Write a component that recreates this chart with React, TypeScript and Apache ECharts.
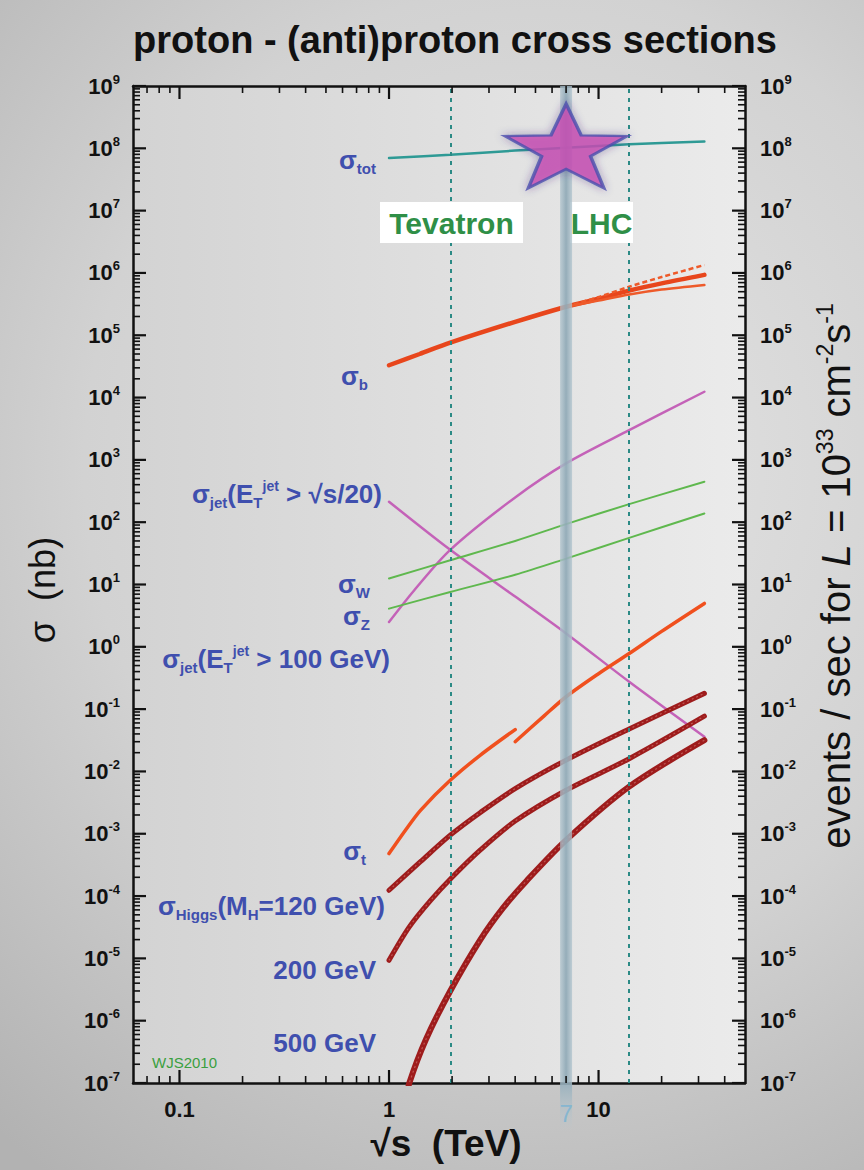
import React, { useEffect, useRef } from "react";
import * as echarts from "echarts";

const FONT = "'Liberation Sans', Arial, Helvetica, sans-serif";

// ---- axis ranges ----
const X_MIN = 0.06;
const X_MAX = 50;
const Y_MIN = 1e-7;
const Y_MAX = 1e9;

// ---- tick values / labels ----
const xMajorTicks = [0.1, 1, 10];
const xTickLabels = ["0.1", "1", "10"];
const xMinorTicks = [0.07, 0.08, 0.09, 0.2, 0.3, 0.4, 0.5, 0.6, 0.7, 0.8, 0.9, 2, 3, 4, 5, 6, 7, 8, 9, 20, 30, 40];
const yMajorTicks = [1e-7, 1e-6, 1e-5, 1e-4, 1e-3, 1e-2, 1e-1, 1e0, 1e1, 1e2, 1e3, 1e4, 1e5, 1e6, 1e7, 1e8, 1e9];
const yTickLabels = [
  "10{s|-7}", "10{s|-6}", "10{s|-5}", "10{s|-4}", "10{s|-3}", "10{s|-2}", "10{s|-1}", "10{s|0}",
  "10{s|1}", "10{s|2}", "10{s|3}", "10{s|4}", "10{s|5}", "10{s|6}", "10{s|7}", "10{s|8}", "10{s|9}",
];
const yMinorMultipliers = [2, 3, 4, 5, 6, 7, 8, 9];

// ---- collider energies (TeV) ----
const tevatronEnergy = 1.96;
const lhcDesignEnergy = 14;
const lhcRunEnergy = 7;
const lhcStar = [[7, 1.09e8]];

// ---- cross sections [sqrt(s) TeV, sigma nb] ----
const sigmaTot = [[1, 7.0e7], [1.96, 7.9e7], [4, 9.2e7], [7, 1.02e8], [14, 1.16e8], [32, 1.29e8]];
const sigmaB = [[1, 3.3e4], [1.4, 5.0e4], [1.96, 7.6e4], [4, 1.64e5], [7, 2.87e5], [10, 3.85e5], [14, 5.2e5], [20, 6.8e5], [32, 9.3e5]];
const sigmaBUpper = [[7, 2.87e5], [10, 4.1e5], [14, 6.0e5], [20, 8.6e5], [32, 1.34e6]];
const sigmaBLower = [[7, 2.87e5], [10, 3.6e5], [14, 4.5e5], [20, 5.4e5], [32, 6.4e5]];
const sigmaJetScaled = [[1, 213], [1.96, 36], [4, 6.4], [7, 1.64], [14, 0.275], [32, 0.036]];
const sigmaJet100 = [[1, 2.5], [1.32, 8.1], [1.96, 36], [4, 250], [7, 880], [14, 3000], [32, 12400]];
const sigmaW = [[1, 12.5], [1.96, 24.5], [4, 50], [7, 93], [14, 195], [32, 446]];
const sigmaZ = [[1, 4.1], [1.96, 7.6], [4, 14.3], [7, 26], [14, 56], [32, 138]];
const sigmaTopPpbar = [[1, 4.8e-4], [1.2, 1.15e-3], [1.417, 2.4e-3], [1.96, 7.2e-3], [2.73, 1.83e-2], [4, 4.7e-2]];
const sigmaTopPp = [[4, 3.0e-2], [5.5, 7.8e-2], [7, 0.158], [10, 0.37], [14, 0.78], [20, 1.77], [32, 4.97]];
const higgs120 = [[1, 1.24e-4], [1.417, 3.6e-4], [1.96, 9.5e-4], [2.73, 2.2e-3], [4, 5.3e-3], [7, 1.52e-2], [14, 4.8e-2], [32, 0.179]];
const higgs200 = [[1, 9.3e-6], [1.25, 3.2e-5], [1.58, 8.5e-5], [2, 2.0e-4], [2.73, 5.5e-4], [4, 1.6e-3], [7, 5.0e-3], [14, 1.6e-2], [32, 7.7e-2]];
const higgs500 = [[1.22, 6e-8], [1.25, 1e-7], [1.5, 5e-7], [1.96, 3.0e-6], [2.73, 2.0e-5], [3.51, 6.5e-5], [4.53, 1.75e-4], [7, 7.9e-4], [14, 5.7e-3], [32, 3.17e-2]];

// ---- star symbol (LHC) ----
const starPath =
  "path://" +
  Array.from({ length: 10 }, (_, k) => {
    const a = -Math.PI / 2 + (k * Math.PI) / 5;
    const r = k % 2 === 0 ? 50 : 20;
    return `${k === 0 ? "M" : "L"}${(50 + r * Math.cos(a)).toFixed(2)} ${(50 + r * Math.sin(a)).toFixed(2)}`;
  }).join(" ") +
  " Z";

type Tick = { v: number; major: boolean; label?: string };

function buildOption() {
  const yTicks: Tick[] = [];
  yMajorTicks.forEach((v, i) => {
    yTicks.push({ v, major: true, label: yTickLabels[i] });
    if (i < yMajorTicks.length - 1) yMinorMultipliers.forEach((m) => yTicks.push({ v: v * m, major: false }));
  });
  const xTicks: Tick[] = [
    ...xMajorTicks.map((v, i) => ({ v, major: true, label: xTickLabels[i] })),
    ...xMinorTicks.map((v) => ({ v, major: false })),
  ];

  const tickRich = {
    s: { fontSize: 13, fontWeight: "bold", fontFamily: FONT, fill: "#111", padding: [0, 0, 14, 0] },
  };

  const axisCommon = {
    type: "log",
    logBase: 10,
    axisLine: { show: true, onZero: false, lineStyle: { color: "#111", width: 2.5 } },
    axisTick: { show: false },
    axisLabel: { show: false },
    splitLine: { show: false },
    minorTick: { show: false },
  };

  const blue = "#3f4fae";
  const labelRich = {
    sub: { fontSize: 15, fontWeight: "bold", fontFamily: FONT, fill: blue, padding: [16, 0, 0, 0] },
    sup: { fontSize: 14, fontWeight: "bold", fontFamily: FONT, fill: blue, padding: [0, 0, 16, 0] },
  };
  const curveLabel = (text: string, x: number, y: number) => ({
    type: "text",
    x,
    y,
    z: 50,
    silent: true,
    style: {
      text,
      fill: blue,
      fontSize: 26,
      fontWeight: "bold",
      fontFamily: FONT,
      align: "right",
      verticalAlign: "middle",
      rich: labelRich,
    },
  });

  const line = (name: string, data: number[][], color: string, width: number, extra: any = {}) => ({
    type: "line",
    name,
    data,
    showSymbol: false,
    symbol: "none",
    smooth: 0.3,
    silent: true,
    clip: true,
    z: 3,
    lineStyle: { color, width, cap: "round" },
    ...extra,
  });
  const texture = (name: string, data: number[][]) =>
    line(name, data, "rgba(255,190,180,0.35)", 1.2, {
      z: 4,
      lineStyle: { color: "rgba(255,195,185,0.35)", width: 1.2, type: [2, 3] },
    });

  const series: any[] = [
    line("σtot", sigmaTot, "#2e9a95", 2.5, {
      markLine: {
        symbol: "none",
        silent: true,
        label: { show: false },
        lineStyle: { color: "#2b8a85", width: 2, type: [4, 5] },
        data: [{ xAxis: tevatronEnergy }, { xAxis: lhcDesignEnergy }],
      },
    }),
    line("σb", sigmaB, "#e8461c", 4.5),
    line("σb upper", sigmaBUpper, "#ee5a2a", 2.5, { lineStyle: { color: "#ee5a2a", width: 2.5, type: [5, 3] } }),
    line("σb lower", sigmaBLower, "#ee5a2a", 2.5),
    line("σjet √s/20", sigmaJetScaled, "#c462b8", 2.5),
    line("σjet 100", sigmaJet100, "#c462b8", 2.5),
    line("σW", sigmaW, "#5fb84e", 2),
    line("σZ", sigmaZ, "#5fb84e", 2),
    line("σt ppbar", sigmaTopPpbar, "#f0501e", 3.5),
    line("σt pp", sigmaTopPp, "#f0501e", 3.5),
    line("Higgs 120", higgs120, "#9e1c1c", 5),
    texture("Higgs 120 t", higgs120),
    line("Higgs 200", higgs200, "#9e1c1c", 5),
    texture("Higgs 200 t", higgs200),
    line("Higgs 500", higgs500, "#9e1c1c", 6),
    texture("Higgs 500 t", higgs500),
    {
      type: "custom",
      name: "LHC 7 TeV",
      coordinateSystem: "cartesian2d",
      clip: false,
      silent: true,
      z: 10,
      data: [[lhcRunEnergy, Y_MAX]],
      renderItem: (params: any, api: any) => {
        const top = api.coord([api.value(0), Y_MAX]);
        const bot = api.coord([api.value(0), Y_MIN]);
        const w = 12;
        return {
          type: "group",
          children: [
            {
              type: "rect",
              shape: { x: top[0] - w / 2, y: top[1], width: w, height: bot[1] - top[1] },
              style: {
                fill: new echarts.graphic.LinearGradient(0, 0, 1, 0, [
                  { offset: 0, color: "rgba(175,195,205,0.75)" },
                  { offset: 0.5, color: "rgba(145,170,183,0.95)" },
                  { offset: 1, color: "rgba(175,195,205,0.75)" },
                ]),
              },
            },
            {
              type: "rect",
              shape: { x: top[0] - w / 2, y: bot[1], width: w, height: 48 },
              style: {
                fill: new echarts.graphic.LinearGradient(0, 0, 0, 1, [
                  { offset: 0, color: "rgba(150,175,188,0.9)" },
                  { offset: 1, color: "rgba(180,200,210,0)" },
                ]),
              },
            },
            {
              type: "text",
              x: top[0],
              y: bot[1] + 30,
              style: {
                text: "7",
                fill: "#86b6d0",
                fontSize: 24,
                fontFamily: FONT,
                align: "center",
                verticalAlign: "middle",
              },
            },
          ],
        };
      },
    },
    {
      type: "scatter",
      name: "LHC star",
      data: lhcStar,
      symbol: starPath,
      symbolSize: [122, 84],
      silent: true,
      z: 12,
      itemStyle: {
        color: "#c94fb4",
        borderColor: "#4b4fae",
        borderWidth: 3,
        shadowBlur: 8,
        shadowColor: "rgba(60,40,120,0.45)",
      },
    },
    {
      type: "custom",
      name: "y ticks",
      coordinateSystem: "cartesian2d",
      clip: false,
      silent: true,
      z: 20,
      data: yTicks.map((t) => [X_MIN, t.v]),
      renderItem: (params: any, api: any) => {
        const t = yTicks[params.dataIndex];
        const l = api.coord([X_MIN, t.v]);
        const r = api.coord([X_MAX, t.v]);
        const len = t.major ? 13 : 7;
        const lw = t.major ? 2.2 : 1.6;
        const children: any[] = [
          { type: "line", shape: { x1: l[0], y1: l[1], x2: l[0] + len, y2: l[1] }, style: { stroke: "#111", lineWidth: lw } },
          { type: "line", shape: { x1: r[0] - len, y1: r[1], x2: r[0], y2: r[1] }, style: { stroke: "#111", lineWidth: lw } },
        ];
        if (t.label) {
          const ts = { text: t.label, fill: "#111", fontSize: 22, fontWeight: "bold", fontFamily: FONT, verticalAlign: "middle", rich: tickRich };
          children.push({ type: "text", x: l[0] - 13, y: l[1], style: { ...ts, align: "right" } });
          children.push({ type: "text", x: r[0] + 15, y: r[1], style: { ...ts, align: "left" } });
        }
        return { type: "group", children };
      },
    },
    {
      type: "custom",
      name: "x ticks",
      coordinateSystem: "cartesian2d",
      clip: false,
      silent: true,
      z: 20,
      data: xTicks.map((t) => [t.v, Y_MIN]),
      renderItem: (params: any, api: any) => {
        const t = xTicks[params.dataIndex];
        const b = api.coord([t.v, Y_MIN]);
        const tp = api.coord([t.v, Y_MAX]);
        const len = t.major ? 13 : 7;
        const lw = t.major ? 2.2 : 1.6;
        const children: any[] = [
          { type: "line", shape: { x1: b[0], y1: b[1], x2: b[0], y2: b[1] - len }, style: { stroke: "#111", lineWidth: lw } },
          { type: "line", shape: { x1: tp[0], y1: tp[1], x2: tp[0], y2: tp[1] + len }, style: { stroke: "#111", lineWidth: lw } },
        ];
        if (t.label) {
          children.push({
            type: "text",
            x: b[0],
            y: b[1] + 26,
            style: { text: t.label, fill: "#111", fontSize: 22, fontWeight: "bold", fontFamily: FONT, align: "center", verticalAlign: "middle" },
          });
        }
        return { type: "group", children };
      },
    },
  ];

  const boxLabel = (text: string, x: number, y: number, w: number, h: number) => ({
    type: "group",
    z: 6,
    silent: true,
    children: [
      { type: "rect", shape: { x, y, width: w, height: h }, style: { fill: "#ffffff" }, z: 6 },
      {
        type: "text",
        x: x + w / 2,
        y: y + h / 2 + 1,
        z: 7,
        style: { text, fill: "#2f8f47", fontSize: 30, fontWeight: "bold", fontFamily: FONT, align: "center", verticalAlign: "middle" },
      },
    ],
  });

  const graphic: any[] = [
    {
      type: "text",
      x: 455,
      y: 40,
      z: 50,
      silent: true,
      style: { text: "proton - (anti)proton cross sections", fill: "#111", fontSize: 38, fontWeight: "bold", fontFamily: FONT, align: "center", verticalAlign: "middle" },
    },
    {
      type: "text",
      x: 446,
      y: 1143,
      z: 50,
      silent: true,
      style: { text: "√s  (TeV)", fill: "#111", fontSize: 37, fontWeight: "bold", fontFamily: FONT, align: "center", verticalAlign: "middle" },
    },
    {
      type: "text",
      x: 42,
      y: 590,
      rotation: Math.PI / 2,
      z: 50,
      silent: true,
      style: { text: "σ  (nb)", fill: "#111", fontSize: 36, fontFamily: FONT, align: "center", verticalAlign: "middle" },
    },
    {
      type: "text",
      x: 836,
      y: 576,
      rotation: Math.PI / 2,
      z: 50,
      silent: true,
      style: {
        text: "events / sec for {it|L} = 10{sup|33} cm{sup|-2}s{sup|-1}",
        fill: "#111",
        fontSize: 40,
        fontFamily: FONT,
        align: "center",
        verticalAlign: "middle",
        rich: {
          it: { fontSize: 40, fontStyle: "italic", fontFamily: FONT, fill: "#111" },
          sup: { fontSize: 23, fontFamily: FONT, fill: "#111", padding: [0, 0, 22, 0] },
        },
      },
    },
    boxLabel("Tevatron", 380, 202, 143, 41),
    boxLabel("LHC", 570, 202, 63, 41),
    curveLabel("σ{sub|tot}", 376, 160),
    curveLabel("σ{sub|b}", 368, 376),
    curveLabel("σ{sub|jet}(E{sub|T}{sup|jet} > √s/20)", 382, 494),
    curveLabel("σ{sub|W}", 370, 584),
    curveLabel("σ{sub|Z}", 370, 616),
    curveLabel("σ{sub|jet}(E{sub|T}{sup|jet} > 100 GeV)", 390, 659),
    curveLabel("σ{sub|t}", 366, 851),
    curveLabel("σ{sub|Higgs}(M{sub|H}=120 GeV)", 385, 906),
    curveLabel("200 GeV", 376, 970),
    curveLabel("500 GeV", 376, 1043),
    {
      type: "text",
      x: 152,
      y: 1062,
      z: 50,
      silent: true,
      style: { text: "WJS2010", fill: "#3aa040", fontSize: 15, fontFamily: FONT, align: "left", verticalAlign: "middle" },
    },
  ];

  return {
    animation: false,
    backgroundColor: "transparent",
    grid: {
      left: 133,
      top: 86,
      width: 612,
      height: 997,
      show: true,
      borderWidth: 0,
      backgroundColor: new echarts.graphic.LinearGradient(0, 0, 1, 0, [
        { offset: 0, color: "#d3d3d3" },
        { offset: 1, color: "#ebebeb" },
      ]),
    },
    xAxis: [
      { ...axisCommon, position: "bottom", min: X_MIN, max: X_MAX },
      { ...axisCommon, position: "top", min: X_MIN, max: X_MAX },
    ],
    yAxis: [
      { ...axisCommon, position: "left", min: Y_MIN, max: Y_MAX },
      { ...axisCommon, position: "right", min: Y_MIN, max: Y_MAX },
    ],
    series,
    graphic,
  };
}

export default function App() {
  const ref = useRef<HTMLDivElement>(null);
  useEffect(() => {
    document.body.style.margin = "0";
    const chart = echarts.init(ref.current as HTMLDivElement, undefined, { renderer: "svg" });
    chart.setOption(buildOption() as any);
    return () => chart.dispose();
  }, []);
  return (
    <div
      ref={ref}
      style={{
        position: "absolute",
        left: 0,
        top: 0,
        width: 864,
        height: 1170,
        background: "radial-gradient(ellipse 95% 75% at 62% 40%, #e4e4e4 0%, #d2d2d2 55%, #b2b2b2 100%)",
      }}
    />
  );
}
